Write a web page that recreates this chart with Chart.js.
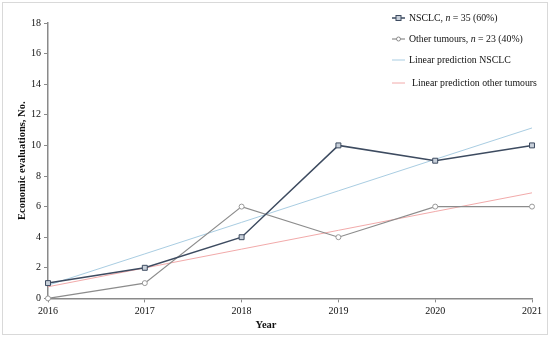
<!DOCTYPE html>
<html>
<head>
<meta charset="utf-8">
<script src="https://cdn.jsdelivr.net/npm/chart.js@4"></script>
<style>
  html, body { margin: 0; padding: 0; background: #fff; }
  #wrap { width: 550px; height: 338px; position: relative; }
</style>
</head>
<body>
<div id="wrap"><canvas id="line-chart"></canvas></div>
<script>
const years = ['2016', '2017', '2018', '2019', '2020', '2021'];
const nsclc = [1, 2, 4, 10, 9, 10];
const otherTumours = [0, 1, 6, 4, 6, 6];
// fitted lines
const nsclcFit = [0.86, 2.91, 4.97, 7.03, 9.09, 11.14];
const otherFit = [0.76, 1.99, 3.22, 4.45, 5.68, 6.90];
const yTicks = [0, 2, 4, 6, 8, 10, 12, 14, 16, 18];

const serif = "'Liberation Serif', 'Times New Roman', serif";
const axisGray = '#8a8a8a';

const legendItems = [
    { text: ['NSCLC, ', 'n', ' = 35 (60%)'], color: '#3d4b60', marker: 'rect', fill: '#c8d0da', width: 1.5, textX: 409 },
    { text: ['Other tumours, ', 'n', ' = 23 (40%)'], color: '#8c8c8c', marker: 'circle', fill: '#ffffff', width: 1.2, textX: 409 },
    { text: ['Linear prediction NSCLC'], color: '#a9cde2', marker: null, width: 1, textX: 409 },
    { text: ['Linear prediction other tumours'], color: '#f2aaaa', marker: null, width: 1, textX: 412 }
];
const legendRows = [18, 39, 60, 83];

const frameAndLegend = {
    id: 'frameAndLegend',
    beforeDraw(chart) {
        const c = chart.ctx;
        c.save();
        c.fillStyle = '#fff';
        c.fillRect(0, 0, chart.width, chart.height);
        c.strokeStyle = '#d9d9d9';
        c.lineWidth = 1;
        c.strokeRect(2.5, 2.5, 545, 332);
        c.restore();
    },
    afterDraw(chart) {
        const c = chart.ctx;
        c.save();
        legendItems.forEach((item, i) => {
            const y = legendRows[i];
            c.strokeStyle = item.color;
            c.lineWidth = item.width;
            c.beginPath();
            c.moveTo(392, y);
            c.lineTo(405, y);
            c.stroke();
            if (item.marker === 'rect') {
                c.fillStyle = item.fill;
                c.fillRect(396, y - 2.5, 5, 5);
                c.lineWidth = 1;
                c.strokeRect(396, y - 2.5, 5, 5);
            } else if (item.marker === 'circle') {
                c.fillStyle = item.fill;
                c.beginPath();
                c.arc(398.5, y, 2, 0, Math.PI * 2);
                c.fill();
                c.lineWidth = 1;
                c.stroke();
            }
            let x = item.textX;
            c.fillStyle = '#111';
            c.textBaseline = 'middle';
            item.text.forEach((part, j) => {
                c.font = (j === 1 ? 'italic ' : '') + '9.8px ' + serif;
                c.fillText(part, x, y);
                x += c.measureText(part).width;
            });
        });
        c.restore();
    }
};

const ctx = document.getElementById('line-chart').getContext('2d');

new Chart(ctx, {
    type: 'line',
    data: {
        labels: years,
        datasets: [{
            label: 'NSCLC, n = 35 (60%)',
            data: nsclc,
            borderColor: '#3d4b60',
            borderWidth: 1.5,
            pointStyle: 'rect',
            pointRadius: 3.5,
            pointBackgroundColor: '#c8d0da',
            pointBorderColor: '#3d4b60',
            pointBorderWidth: 1,
            tension: 0,
            order: 1
        }, {
            label: 'Other tumours, n = 23 (40%)',
            data: otherTumours,
            borderColor: '#8c8c8c',
            borderWidth: 1.2,
            pointStyle: 'circle',
            pointRadius: 2.5,
            pointBackgroundColor: '#ffffff',
            pointBorderColor: '#9a9a9a',
            pointBorderWidth: 1,
            tension: 0,
            order: 2
        }, {
            label: 'Linear prediction NSCLC',
            data: nsclcFit,
            borderColor: '#a9cde2',
            borderWidth: 1,
            pointRadius: 0,
            order: 3
        }, {
            label: 'Linear prediction other tumours',
            data: otherFit,
            borderColor: '#f2aaaa',
            borderWidth: 1,
            pointRadius: 0,
            order: 4
        }]
    },
    options: {
        responsive: true,
        maintainAspectRatio: false,
        animation: false,
        clip: false,
        layout: {
            padding: { left: 0, right: 18, top: 23, bottom: 6 }
        },
        scales: {
            x: {
                offset: false,
                grid: {
                    display: true,
                    drawOnChartArea: false,
                    drawTicks: true,
                    tickLength: 4,
                    color: axisGray
                },
                border: { color: axisGray, width: 1.5 },
                ticks: {
                    padding: 3,
                    maxRotation: 0,
                    color: '#111',
                    font: { family: serif, size: 10 }
                },
                afterFit(scale) { scale.height = 19; }
            },
            y: {
                min: 0,
                max: 18,
                afterBuildTicks(scale) {
                    scale.ticks = yTicks.map(v => ({ value: v }));
                },
                grid: {
                    display: true,
                    drawOnChartArea: false,
                    tickLength: 4,
                    color: axisGray
                },
                border: { color: axisGray, width: 1.5 },
                ticks: {
                    padding: 3,
                    color: '#111',
                    font: { family: serif, size: 10 }
                },
                title: {
                    display: true,
                    text: 'Economic evaluations, No.',
                    color: '#111',
                    padding: { top: 16, bottom: 0 },
                    font: { family: serif, size: 10.5, weight: 'bold' }
                },
                afterFit(scale) { scale.width = 48; }
            }
        },
        plugins: {
            legend: { display: false },
            tooltip: { enabled: false },
            title: {
                display: true,
                position: 'bottom',
                text: 'Year',
                color: '#111',
                padding: { top: 2, bottom: 0 },
                font: { family: serif, size: 10.5, weight: 'bold', lineHeight: 1.2 }
            }
        }
    },
    plugins: [frameAndLegend]
});
</script>
</body>
</html>
